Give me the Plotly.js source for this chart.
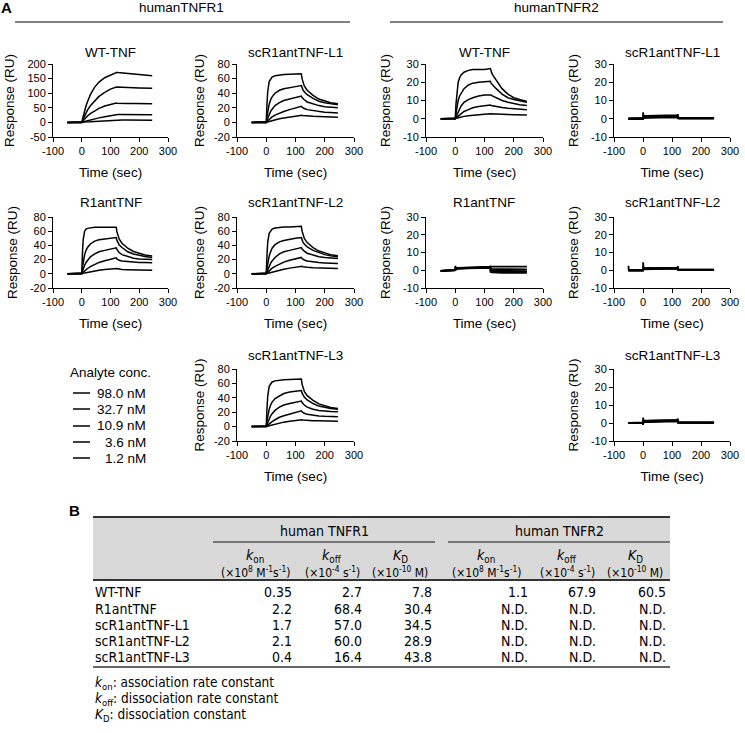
<!DOCTYPE html>
<html>
<head>
<meta charset="utf-8">
<script src="https://cdn.plot.ly/plotly-3.0.1.min.js"></script>
<style>
  html, body { margin:0; padding:0; background:#fff; }
  #fig { width:745px; height:733px; }
</style>
</head>
<body>
<div id="fig"></div>
<script>
// ---------- data ----------

// sampling times (sec)
const tKin = [-50, 0, 2.5, 5, 10, 15, 20, 30, 45, 60, 80, 100, 120, 122.5, 125, 130, 140, 160, 180, 200, 220, 245];
const tNull = [-50, -49, -1, 0, 0.5, 2, 10, 40, 80, 118, 119, 120, 121, 125, 160, 200, 245];

const concLabels = ["98.0 nM", "32.7 nM", "10.9 nM", "3.6 nM", "1.2 nM"];

// humanTNFR1 sensorgrams (RU), one row per concentration
const r1WT = [
  [0,0,11,22,40,57,71,95,121,138,153,163,172,171.5,171,170.5,169.5,167,165,163.5,162,160],
  [0,0,6,12,23,33,42,57,75,89,103,114,121,121,120.8,120.5,120,119,118.5,118,117.5,117],
  [0,0,3,6,12,17,22,30,40,48,56,62,66,65.8,65.6,65.4,65.2,65,64.7,64.5,64.3,64],
  [0,0,0.8,1.6,3,4.5,6,8.5,12,15.5,19.5,23.5,27,27,27,26.9,26.8,26.6,26.4,26.2,26.1,26],
  [0,0,0.2,0.4,0.8,1.2,1.5,2.2,3.2,4.3,5.6,6.9,8,8,8,8,7.9,7.8,7.7,7.6,7.5,7.4]
];
const r1L1 = [
  [0,0,25,42,56,60,62,64,65,65.5,66,66,66.5,60,55,50,44,37,32,29,27,25.5],
  [0,0,8,15,25,31,35,40,44,46,48,49,50.5,47,45,42,38,33,29,27,25.5,24],
  [0,0,3,6,11,15,18,23,27,30,32,34,36,34,32.5,31,28,25,23,21.5,20.5,20],
  [0,0,1,2,4,6,7.5,10,13,15,17.5,19.5,22,21,20,19,17.5,16,15,14,13.5,13],
  [0,0,0.3,0.6,1.2,1.8,2.4,3.5,5,6,7.5,8.7,10,9.7,9.5,9.2,8.8,8.3,8,7.6,7.3,7]
];
const r1Ant = [
  [0,0,30,48,60,63,64,65,65.5,65.5,65.5,65.5,65.5,59,55,49,43,36,31.5,28.5,26.5,25],
  [0,0,9,17,27,33,37,42,46,48,49,50,51,47,44,41,37,31,28,26,24.5,23],
  [0,0,3.5,7,12,16,19,24,28,31,33,35,36.5,34,32,30,27,24,22,21,20.5,20],
  [0,0,1,2,4,6,7.5,10,13.5,16,18.5,20.5,22.5,21,20,19,18,17,16.5,16,15.8,15.5],
  [0,0,0.3,0.6,1,1.5,2,3,4,5,6,7,8,7.5,7,6.5,6,5.7,5.5,5.3,5.2,5]
];
const r1L2 = [
  [0,0,26,44,57,61,63,64.5,65.5,66,66,66.5,67,60,55,50,44,37,32,29,27,25.5],
  [0,0,8,15,25,31,36,41,45,47,49,50,51,47,45,42,38,33,29.5,27,25.5,24],
  [0,0,3,6,11,15,18,23,28,31,33,35,37,35,33.5,32,29,26,24,23,22,21.5],
  [0,0,1,2,4,6,8,10.5,14,16.5,19,21,23,21.5,20.5,19.5,18,16.5,15.8,15.3,15,14.5],
  [0,0,0.3,0.6,1.2,1.8,2.5,3.7,5.2,6.5,8,9.5,11,10.5,10,9.6,9.1,8.6,8.3,8,7.8,7.5]
];
const r1L3 = [
  [0,0,25,42,56,60,62,63.5,64.5,65,65.5,65.5,66,59,54,49,43,36.5,31.5,28.5,26.5,25],
  [0,0,8,14,24,30,34,39,43,46,48,49,50,46.5,44,41,37,32,28.5,26.5,25,24],
  [0,0,3,6,11,15,18,22.5,27,30,32,34,35.5,33.5,32,30,27,24,22.5,21.5,21,20.5],
  [0,0,1,2,4,5.5,7,9.5,13,15,17.5,19.5,22,20.5,19.5,18.5,17,15.5,14.8,14.3,14,13.8],
  [0,0,0.3,0.6,1.2,1.8,2.4,3.5,5,6.2,7.5,8.8,10,9.6,9.3,9,8.6,8.2,8,7.8,7.6,7.5]
];

// humanTNFR2 sensorgrams (RU)
const r2WT = [
  [0,0,8,14,20,22.5,24,25.5,26.5,27,27,27,27.5,26,25,23.5,21,16.5,13.5,11.5,10.5,9.5],
  [0,0,3,6,10,12.5,14,16.5,18.5,19.5,20,20.3,20.5,19.5,19,18,16.5,13.5,11.5,10.5,9.8,9],
  [0,0,1,2,4,5.5,7,9,10.5,11.5,12.5,13,13.3,13,12.7,12.3,11.5,10,9,8.2,7.7,7.2],
  [0,0,0.4,0.8,1.5,2.3,3,4,5,6,6.7,7.2,7.5,7.3,7.2,7,6.7,6.2,5.7,5.4,5.2,5],
  [0,0,0.1,0.3,0.5,0.8,1,1.3,1.7,2,2.3,2.5,2.7,2.7,2.6,2.6,2.5,2.4,2.3,2.2,2.1,2]
];
const r2L1 = [
  [0,0,0,0,3.5,1.5,1.5,1.7,1.8,1.8,1.8,2.5,0.8,0.6,0.5,0.4,0.4],
  [0,0,0,0,1,1.2,1.3,1.4,1.5,1.5,1.5,1.5,0.5,0.4,0.3,0.3,0.3],
  [0,0,0,0,0.8,0.9,1,1.1,1.2,1.2,1.2,1.2,0.4,0.3,0.3,0.3,0.3],
  [0,0,0,0,0.5,0.6,0.8,0.9,1,1,1,1,0.3,0.2,0.2,0.2,0.2],
  [0,0,0,0,0.3,0.4,0.5,0.6,0.7,0.7,0.7,0.7,0.2,0.1,0.1,0.1,0.1]
];
const r2Ant = [
  [-0.3,-0.3,-0.3,0,2.5,1.2,1.3,1.5,1.8,2,2,2.5,2,2,2,2,2],
  [-0.3,-0.3,-0.3,0,1.5,1,1.2,1.4,1.6,1.7,1.7,1.7,0.8,0.7,0.6,0.5,0.5],
  [-0.3,-0.3,-0.3,0,1,0.9,1.1,1.3,1.4,1.5,1.5,1.5,0,-0.2,-0.4,-0.5,-0.5],
  [-0.3,-0.3,-0.3,0,0.8,0.8,1,1.2,1.3,1.4,1.4,1.4,-0.5,-0.7,-0.9,-1,-1],
  [-0.3,-0.3,-0.3,0,0.6,0.7,0.9,1.1,1.2,1.3,1.3,1.3,-1,-1.2,-1.4,-1.5,-1.5]
];
const r2L2 = [
  [2.5,0,0,0,4.5,1,1.2,1.3,1.5,1.5,1.5,2.3,0.5,0.4,0.3,0.3,0.3],
  [0,0,0,0,1.2,0.9,1,1.1,1.3,1.3,1.3,1.3,0.4,0.3,0.3,0.3,0.3],
  [0,0,0,0,1,0.8,0.9,1,1.2,1.2,1.2,1.2,0.4,0.3,0.2,0.2,0.2],
  [0,0,0,0,0.8,0.7,0.8,0.9,1,1.1,1.1,1.1,0.3,0.2,0.2,0.2,0.2],
  [0,0,0,0,0.5,0.5,0.6,0.7,0.8,0.9,0.9,0.9,0.2,0.1,0.1,0.1,0.1]
];
const r2L3 = [
  [0,0,0,0,3,1.2,1.3,1.5,1.6,1.7,1.7,2.5,0.6,0.5,0.4,0.4,0.4],
  [0,0,0,-1,1,1,1.1,1.3,1.4,1.5,1.5,1.5,0.4,0.3,0.3,0.3,0.3],
  [0,0,0,0,0.8,0.8,0.9,1.1,1.2,1.3,1.3,1.3,0.3,0.2,0.2,0.2,0.2],
  [0,0,0,0,0.6,0.6,0.7,0.9,1,1.1,1.1,1.1,0.2,0.2,0.1,0.1,0.1],
  [0,0,0,0,0.4,0.4,0.5,0.7,0.8,0.9,0.9,0.9,0.1,0.1,0.1,0.1,0.1]
];

// tick labels
const xTickVals = [-100, 0, 100, 200, 300];
const xTickText = ["-100", "0", "100", "200", "300"];
const yTicksWT = [-50, 0, 50, 100, 150, 200];
const yTicksR1 = [-20, 0, 20, 40, 60, 80];
const yTicksR2 = [-10, 0, 10, 20, 30];

// table (panel B)
const tableRows = ["WT-TNF", "R1antTNF", "scR1antTNF-L1", "scR1antTNF-L2", "scR1antTNF-L3"];
const konR1  = ["0.35", "2.2", "1.7", "2.1", "0.4"];
const koffR1 = ["2.7", "68.4", "57.0", "60.0", "16.4"];
const kdR1   = ["7.8", "30.4", "34.5", "28.9", "43.8"];
const konR2  = ["1.1", "N.D.", "N.D.", "N.D.", "N.D."];
const koffR2 = ["67.9", "N.D.", "N.D.", "N.D.", "N.D."];
const kdR2   = ["60.5", "N.D.", "N.D.", "N.D.", "N.D."];
const colHeads = ["<i>k</i><sub>on</sub>", "<i>k</i><sub>off</sub>", "<i>K</i><sub>D</sub>"];
const colUnits = ["(×10<sup>8</sup> M<sup>-1</sup>s<sup>-1</sup>)", "(×10<sup>-4</sup> s<sup>-1</sup>)", "(×10<sup>-10</sup> M)"];
const notes = [
  "<i>k</i><sub>on</sub>: association rate constant",
  "<i>k</i><sub>off</sub>: dissociation rate constant",
  "<i>K</i><sub>D</sub>: dissociation constant"
];

// ---------- layout helpers ----------
const W = 745, H = 733;
const FONT = "Liberation Sans, Arial, sans-serif";
const NARROW = "Liberation Sans Narrow, Arial Narrow, DejaVu Sans Condensed, Liberation Sans, Arial, sans-serif";
function px(x){ return x / W; }
function py(y){ return 1 - y / H; }

const colX = [[53,168],[237,354],[426,543],[614,730]];
const rowY = [[64,137],[217,288],[369,441]];
const titleY = [52, 202, 355];
const yStandoff = [9, 6, 9, 9];

const panels = [
  {name:"WT-TNF",        data:r1WT,  t:tKin,  col:0, row:0, yt:yTicksWT},
  {name:"scR1antTNF-L1", data:r1L1,  t:tKin,  col:1, row:0, yt:yTicksR1},
  {name:"WT-TNF",        data:r2WT,  t:tKin,  col:2, row:0, yt:yTicksR2},
  {name:"scR1antTNF-L1", data:r2L1,  t:tNull, col:3, row:0, yt:yTicksR2},
  {name:"R1antTNF",      data:r1Ant, t:tKin,  col:0, row:1, yt:yTicksR1},
  {name:"scR1antTNF-L2", data:r1L2,  t:tKin,  col:1, row:1, yt:yTicksR1},
  {name:"R1antTNF",      data:r2Ant, t:tNull, col:2, row:1, yt:yTicksR2},
  {name:"scR1antTNF-L2", data:r2L2,  t:tNull, col:3, row:1, yt:yTicksR2},
  {name:"scR1antTNF-L3", data:r1L3,  t:tKin,  col:1, row:2, yt:yTicksR1},
  {name:"scR1antTNF-L3", data:r2L3,  t:tNull, col:3, row:2, yt:yTicksR2}
];

const traces = [];
const layout = {
  width: W, height: H,
  margin: {l:0, r:0, t:0, b:0},
  paper_bgcolor: "#fff",
  plot_bgcolor: "rgba(0,0,0,0)",
  showlegend: false,
  font: {family: FONT, color: "#000"},
  annotations: [],
  shapes: []
};

const tickFont = {family: FONT, size: 11, color: "#000"};
const titleFont = {family: FONT, size: 13.5, color: "#000"};

panels.forEach((p, k) => {
  const i = k + 1;
  const xa = "x" + (i === 1 ? "" : i);
  const ya = "y" + (i === 1 ? "" : i);
  const flat = p.t === tNull;

  p.data.forEach(vals => {
    traces.push({
      x: p.t, y: vals,
      xaxis: xa, yaxis: ya,
      type: "scatter", mode: "lines",
      line: {color: "#000", width: flat ? 1.8 : 1.5},
      hoverinfo: "skip"
    });
  });

  const cx = colX[p.col], ry = rowY[p.row];
  const yt = p.yt;

  layout["xaxis" + (i === 1 ? "" : i)] = {
    domain: [px(cx[0]), px(cx[1])],
    anchor: ya,
    range: [-100, 300],
    tickvals: xTickVals, ticktext: xTickText,
    showline: true, linecolor: "#000", linewidth: 1,
    ticks: "outside", ticklen: 4, tickcolor: "#000", tickwidth: 1,
    showgrid: false, zeroline: false,
    tickfont: tickFont,
    title: {text: "Time (sec)", font: titleFont, standoff: 11},
    fixedrange: true
  };
  layout["yaxis" + (i === 1 ? "" : i)] = {
    domain: [py(ry[1]), py(ry[0])],
    anchor: xa,
    range: [yt[0], yt[yt.length - 1]],
    tickvals: yt, ticktext: yt.map(v => String(v)),
    showline: true, linecolor: "#000", linewidth: 1,
    ticks: "outside", ticklen: 4, tickcolor: "#000", tickwidth: 1,
    showgrid: false, zeroline: false,
    tickfont: tickFont,
    title: {text: "Response (RU)", font: titleFont, standoff: yStandoff[p.col]},
    fixedrange: true
  };

  layout.annotations.push({
    text: p.name, xref: "paper", yref: "paper",
    x: px((cx[0] + cx[1]) / 2), y: py(titleY[p.row]),
    xanchor: "center", yanchor: "middle", showarrow: false,
    font: titleFont
  });
});

// ---------- panel A headers ----------
function note(text, x, y, opts){
  layout.annotations.push(Object.assign({
    text: text, xref: "paper", yref: "paper",
    x: px(x), y: py(y), showarrow: false,
    xanchor: "center", yanchor: "middle",
    font: titleFont
  }, opts || {}));
}
function hline(x0, x1, y, color, width){
  layout.shapes.push({
    type: "line", xref: "paper", yref: "paper",
    x0: px(x0), x1: px(x1), y0: py(y), y1: py(y),
    line: {color: color, width: width}
  });
}

note("<b>A</b>", 7, 7, {font: {family: FONT, size: 15, color: "#000"}});
note("humanTNFR1", 181, 8);
note("humanTNFR2", 556, 8);
hline(15, 350, 22, "#808080", 1.8);
hline(390, 723, 22, "#808080", 1.8);

// concentration key
note("Analyte conc.", 110, 372);
const keyY = [393, 409, 426, 442, 458];
concLabels.forEach((lab, j) => {
  hline(73, 90, keyY[j], "#000", 1.5);
  note(lab, 148, keyY[j], {xanchor: "right"});
});

// ---------- panel B table ----------
note("<b>B</b>", 74, 510, {font: {family: FONT, size: 15, color: "#000"}});

layout.shapes.push({
  type: "rect", xref: "paper", yref: "paper",
  x0: px(93), x1: px(670), y0: py(580), y1: py(517),
  fillcolor: "#d9d9d9", line: {width: 0}, layer: "below"
});
hline(93, 670, 517, "#333", 2);
hline(93, 670, 580, "#333", 2);
hline(93, 670, 667, "#333", 1.5);
hline(213, 435, 542, "#555", 1.5);
hline(448, 670, 542, "#555", 1.5);

const tFont = {family: NARROW, size: 14, color: "#000"};
const uFont = {family: NARROW, size: 12, color: "#000"};
note("human TNFR1", 324, 531, {font: tFont});
note("human TNFR2", 559, 531, {font: tFont});

const headX = [255, 332, 400, 486, 567, 635];
headX.forEach((x, j) => {
  note(colHeads[j % 3], x, 556, {font: tFont});
  note(colUnits[j % 3], x, 572, {font: uFont});
});

const rowYs = [592, 609, 625, 641, 657];
const valX = [294, 364, 434, 530, 598, 668];
const cols = [konR1, koffR1, kdR1, konR2, koffR2, kdR2];
tableRows.forEach((lab, r) => {
  note(lab, 93, rowYs[r], {xanchor: "left", font: tFont});
  cols.forEach((c, j) => {
    note(c[r], valX[j], rowYs[r], {xanchor: "right", font: tFont});
  });
});

const noteY = [683, 699, 715];
notes.forEach((n, j) => note(n, 93, noteY[j], {xanchor: "left", font: {family: NARROW, size: 13.5, color: "#000"}}));

Plotly.newPlot("fig", traces, layout, {displayModeBar: false, staticPlot: true});
</script>
</body>
</html>
